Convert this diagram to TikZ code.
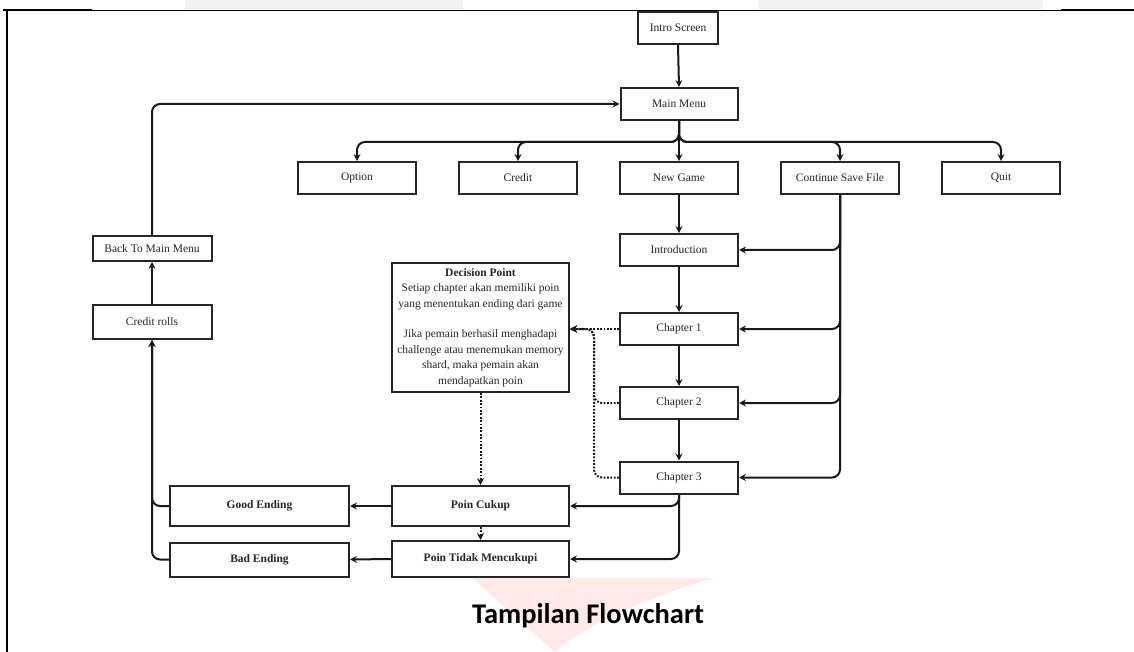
\documentclass[tikz,border=0pt]{standalone}
\usepackage{fontspec}
\setmainfont{Liberation Serif}
\newfontfamily\capfont{Carlito}
\usetikzlibrary{arrows.meta}
\begin{document}
\begin{tikzpicture}[x=1pt,y=-1pt,
  box/.style={draw=black!85, line width=2pt, fill=white, inner sep=1pt,
    font=\fontsize{11.5}{13}\selectfont, text=black!85, align=center},
  bbox/.style={box, font=\bfseries\fontsize{11.5}{13}\selectfont},
  conn/.style={draw=black!90, line width=2pt,
    -{Stealth[length=7pt,width=7pt,inset=2.5pt]}, rounded corners=8pt},
  dconn/.style={conn, dash pattern=on 1.8pt off 1.6pt, line width=2pt}]
\useasboundingbox (0,0) rectangle (1134,652);
% watermark
\fill[black!5] (185,0) rectangle (463,9);
\fill[black!5] (758,0) rectangle (1043,9);
\fill[red!60!pink, opacity=0.13] (472,578) -- (713,578) .. controls (640,600) and (585,625) .. (555,652) -- cycle;
% frame
\draw[line width=0.8pt] (3,10) -- (1134,10);
\draw[line width=2pt] (3,10) -- (92,10);
\draw[line width=2pt] (1061,10) -- (1134,10);
\draw[line width=2pt] (7,10) -- (7,652);
% nodes
\node[box, minimum width=80pt, minimum height=32pt] (intro) at (678,28) {Intro Screen};
\node[box, minimum width=117pt, minimum height=32pt] (mm) at (679,104) {Main Menu};
\node[box, minimum width=118pt, minimum height=32pt] (opt) at (357,178) {Option};
\node[box, minimum width=118pt, minimum height=32pt] (cred) at (518,178) {Credit};
\node[box, minimum width=118pt, minimum height=32pt] (ng) at (679,178) {New Game};
\node[box, minimum width=118pt, minimum height=32pt] (csf) at (840,178) {Continue Save File};
\node[box, minimum width=118pt, minimum height=32pt] (quit) at (1001,178) {Quit};
\node[box, minimum width=118pt, minimum height=32pt] (introd) at (679,250) {Introduction};
\node[box, minimum width=118pt, minimum height=32pt] (ch1) at (679,329) {Chapter 1};
\node[box, minimum width=118pt, minimum height=32pt] (ch2) at (679,403) {Chapter 2};
\node[box, minimum width=118pt, minimum height=32pt] (ch3) at (679,477.5) {Chapter 3};
\node[box, minimum width=177pt, minimum height=129pt, font=\fontsize{11.5}{15.4}\selectfont] (dp) at (480.5,327.5)
  {\textbf{Decision Point}\\Setiap chapter akan memiliki poin\\yang menentukan ending dari game\\[15.4pt]Jika pemain berhasil menghadapi\\challenge atau menemukan memory\\shard, maka pemain akan\\mendapatkan poin};
\node[bbox, minimum width=177pt, minimum height=40pt] (pc) at (480.5,506) {Poin Cukup};
\node[bbox, minimum width=177pt, minimum height=36pt] (ptm) at (480.5,559) {Poin Tidak Mencukupi};
\node[bbox, minimum width=179pt, minimum height=40pt] (ge) at (259.5,506) {Good Ending};
\node[bbox, minimum width=179pt, minimum height=34pt] (be) at (259.5,559.5) {Bad Ending};
\node[box, minimum width=119pt, minimum height=34pt] (cr) at (152,322) {Credit rolls};
\node[box, minimum width=119pt, minimum height=25pt] (bm) at (152,248.5) {Back To Main Menu};
% caption
\node[font=\capfont\bfseries\fontsize{28.5}{32}\selectfont] (cap) at (588,616) {Tampilan Flowchart};
% connectors
\coordinate (mmj) at (679,142);
\draw[conn] (intro.south) -- (mm.north);
\draw[conn] (mm.south) -- (mmj) -| (opt.north);
\draw[conn] (mm.south) -- (mmj) -| (cred.north);
\draw[conn] (mm.south) -- (ng.north);
\draw[conn] (mm.south) -- (mmj) -| (csf.north);
\draw[conn] (mm.south) -- (mmj) -| (quit.north);
\draw[conn] (ng.south) -- (introd.north);
\draw[conn] (introd.south) -- (ch1.north);
\draw[conn] (ch1.south) -- (ch2.north);
\draw[conn] (ch2.south) -- (ch3.north);
\draw[conn] (csf.south) |- (introd.east);
\draw[conn] (csf.south) |- (ch1.east);
\draw[conn] (csf.south) |- (ch2.east);
\draw[conn] (csf.south) |- (ch3.east);
\draw[conn] (ch3.south) |- (pc.east);
\draw[conn] (ch3.south) |- (ptm.east);
\draw[conn] (pc.west) -- (ge.east);
\draw[conn] (ptm.west) -- (be.east);
\draw[conn] (ge.west) -| (cr.south);
\draw[conn] (be.west) -| (cr.south);
\draw[conn] (cr.north) -- (bm.south);
\draw[conn] (bm.north) |- (mm.west);
\coordinate (dj) at (594,329);
\draw[dconn] (ch1.west) -- (dp.east |- ch1.west);
\draw[dconn] (ch2.west) -| (dj) -- (dp.east |- ch1.west);
\draw[dconn] (ch3.west) -| (dj) -- (dp.east |- ch1.west);
\draw[dconn] (dp.south) -- (pc.north);
\draw[dconn] (pc.south) -- (ptm.north);
\end{tikzpicture}
\end{document}
